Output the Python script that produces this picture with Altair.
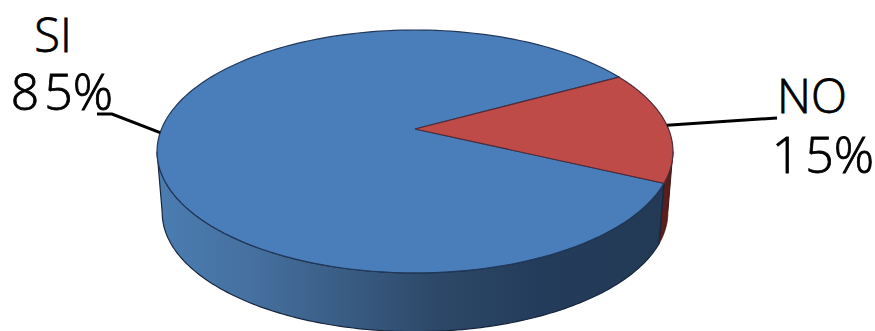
import math

import altair as alt
import pandas as pd

# Survey result
categories = ["SI", "NO"]
shares = [85, 15]
# A hair space opens up the digit spacing of the percentage labels
label_lines = {"SI": ["SI", "8\u200a5%"], "NO": ["NO", "1\u200a5%"]}
top_colors = {"SI": "#4a7ebb", "NO": "#be4b48"}

W, H = 875, 331

# Tilted-disc projection of the unit circle onto the canvas
CX, CY = 415, 129
RADIUS_X, RADIUS_Y, TILT = 253.5, 117.3, 0.185
NO_START_DEG = -25.2          # the NO slice starts here and runs counter-clockwise
DEPTH, BASE_SCALE = 61.6, 0.98


def rim(deg, lower=False):
    u, v = math.cos(math.radians(deg)), math.sin(math.radians(deg))
    w = 1 + TILT * v
    dx, dy = RADIUS_X * u / w, -RADIUS_Y * v / w
    if lower:
        return CX + dx * BASE_SCALE, CY + dy * BASE_SCALE + DEPTH
    return CX + dx, CY + dy


def sweep(a, b, n=160):
    return [a + (b - a) * i / n for i in range(n + 1)]


# Slice angles follow the shares
no_sweep = 360 * shares[1] / sum(shares)
no_a, no_b = NO_START_DEG, NO_START_DEG + no_sweep
si_a, si_b = no_b, NO_START_DEG + 360
mid = {"SI": (si_a + si_b) / 2, "NO": (no_a + no_b) / 2}

# Rim angles where the wall of the disc turns out of view
right_edge = -math.degrees(math.asin(TILT))
left_edge = -180 - right_edge


def polygon(points):
    return pd.DataFrame(
        [{"x": x, "y": y, "i": i} for i, (x, y) in enumerate(points)]
    )


def wedge(a, b):
    pts = [(CX, CY)] + [rim(d) for d in sweep(a, b)] + [(CX, CY)]
    return polygon(pts)


def wall(a, b):
    angles = sweep(a, b)
    pts = [rim(d) for d in angles] + [rim(d, True) for d in reversed(angles)]
    return polygon(pts + pts[:1])


x_enc = alt.X("x:Q", scale=alt.Scale(domain=[0, W]), axis=None)
y_enc = alt.Y("y:Q", scale=alt.Scale(domain=[H, 0]), axis=None)


def shape(df, fill, stroke, width):
    return (
        alt.Chart(df)
        .mark_line(fill=fill, stroke=stroke, strokeWidth=width, interpolate="linear")
        .encode(x=x_enc, y=y_enc, order="i:Q")
    )


wall_gradient = alt.Gradient(
    gradient="linear",
    x1=0, x2=1, y1=0, y2=0,
    stops=[
        alt.GradientStop(color="#4b7db2", offset=0),
        alt.GradientStop(color="#456f9e", offset=0.2),
        alt.GradientStop(color="#37597f", offset=0.4),
        alt.GradientStop(color="#2d4868", offset=0.55),
        alt.GradientStop(color="#243c5b", offset=0.75),
        alt.GradientStop(color="#233a56", offset=1),
    ],
)

layers = [
    shape(wall(no_a, right_edge), "#5a1f1c", "#3a1512", 1),
    shape(wall(left_edge, no_a), wall_gradient, "#17263c", 1.2),
    shape(wedge(si_a, si_b), top_colors["SI"], "#22385a", 1.2),
    shape(wedge(no_a, no_b), top_colors["NO"], "#4f2c3a", 1.2),
]

# Leader lines run from each slice's mid-angle on the rim to its label
elbows = {"SI": [(112, 114), (97, 114)], "NO": [(777, 118)]}
for cat in categories:
    pts = [rim(mid[cat])] + elbows[cat]
    layers.append(
        alt.Chart(polygon(pts))
        .mark_line(color="#000000", strokeWidth=3)
        .encode(x=x_enc, y=y_enc, order="i:Q")
    )

name_rows = pd.DataFrame(
    [
        {"x": 53, "y": 52, "t": label_lines["SI"][0]},
        {"x": 812, "y": 113, "t": label_lines["NO"][0]},
    ]
)
pct_rows = pd.DataFrame(
    [
        {"x": 62, "y": 110, "t": label_lines["SI"][1]},
        {"x": 823, "y": 173, "t": label_lines["NO"][1]},
    ]
)
for rows, size in ((name_rows, 47), (pct_rows, 50)):
    layers.append(
        alt.Chart(rows)
        .mark_text(
            font="Open Sans", fontSize=size, fontWeight=300, color="#000000",
            stroke="#000000", strokeWidth=0.8, align="center", baseline="alphabetic",
        )
        .encode(x=x_enc, y=y_enc, text="t:N")
    )

chart = (
    alt.layer(*layers)
    .properties(width=W, height=H, padding=0, autosize=alt.AutoSizeParams(type="none"), background="#ffffff")
    .configure_view(stroke=None)
)

chart.save("out.html", embed_options={"renderer": "svg", "actions": False})
